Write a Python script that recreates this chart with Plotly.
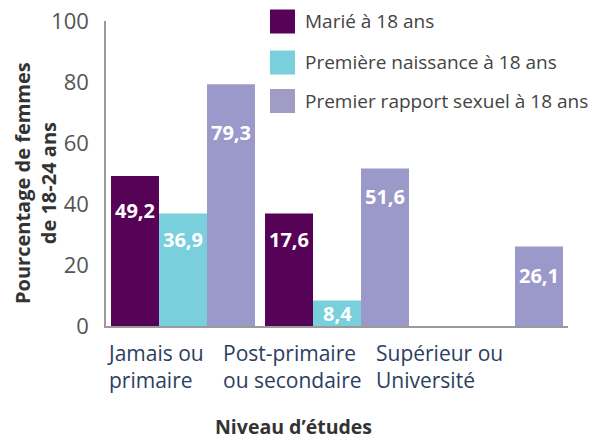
import plotly.graph_objects as go

categories = ["Jamais ou primaire", "Post-primaire ou secondaire", "Supérieur ou Université"]
category_labels = ["Jamais ou<br>primaire", "Post-primaire<br>ou secondaire", "Supérieur ou<br>Université"]
series_names = ["Marié à 18 ans", "Première naissance à 18 ans", "Premier rapport sexuel à 18 ans"]
# bar heights as drawn in the picture
marie_heights = [49.2, 36.9, None]
naissance_heights = [36.9, 8.4, None]
rapport_heights = [79.3, 51.6, 26.1]
# value labels printed on bars
marie_labels = ["49,2", "17,6", ""]
naissance_labels = ["36,9", "8,4", ""]
rapport_labels = ["79,3", "51,6", "26,1"]
y_ticks = [0, 20, 40, 60, 80, 100]

colors = ["#560256", "#79cfdb", "#9a99ca"]
legend_colors = ["#560256", "#79cfdb", "#a09cc4"]

OFF = 8  # page body margin
W, H = 603 - OFF, 441 - OFF
# page-pixel geometry of the plot area
PX_L, PX_R, PX_T, PX_B = 106, 568, 21, 326
L, R, T, B = PX_L - OFF, 603 - PX_R, PX_T - OFF, 441 - PX_B
PW = PX_R - PX_L
PH = PX_B - PX_T


def px_x(px):
    return (px - PX_L) / PW


def px_y(py):
    return (PX_B - py) / PH


fig = go.Figure()
for name, vals, col in zip(series_names,
                           [marie_heights, naissance_heights, rapport_heights],
                           colors):
    fig.add_trace(go.Bar(x=categories, y=vals, name=name, marker_color=col,
                         marker_line_width=0, showlegend=False))

# value labels inside bars (vertical position as in the picture, fraction of bar)
label_frac = [[0.77, 0.77, 0], [0.77, 0.5, 0], [0.80, 0.82, 0.63]]
shifts = [-48, 0, 48]
annotations = []
for s, (vals, labs) in enumerate(zip([marie_heights, naissance_heights, rapport_heights],
                                     [marie_labels, naissance_labels, rapport_labels])):
    for i, (v, lab) in enumerate(zip(vals, labs)):
        if v is None or not lab:
            continue
        annotations.append(dict(x=categories[i], y=v * label_frac[s][i], xref="x", yref="y",
                                text=lab, showarrow=False, xshift=shifts[s],
                                font=dict(family="Open Sans", size=20, color="white", weight="bold")))

# category labels
cat_x = [105, 221, 374]
for lab, cx in zip(category_labels, cat_x):
    annotations.append(dict(x=px_x(cx), y=px_y(337), xref="paper", yref="paper",
                            text=lab, showarrow=False, xanchor="left", yanchor="top",
                            align="left",
                            font=dict(family="Open Sans", size=21, color="#2c3e5e")))

# legend
leg_y = [21.5, 62.5, 101]
for name, col, ly in zip(series_names, legend_colors, leg_y):
    fig.add_shape(type="rect", xref="paper", yref="paper",
                  x0=px_x(270), x1=px_x(295), y0=px_y(ly - 12), y1=px_y(ly + 12),
                  fillcolor=col, line_width=0)
    annotations.append(dict(x=px_x(303), y=px_y(ly), xref="paper", yref="paper",
                            text=name, showarrow=False, xanchor="left", yanchor="middle",
                            font=dict(family="Open Sans", size=19, color="#444444")))

# axis titles
annotations.append(dict(x=px_x(35), y=px_y(183), xref="paper", yref="paper",
                        text="Pourcentage de femmes<br>de 18-24 ans", showarrow=False,
                        textangle=-90, xanchor="center", yanchor="middle",
                        font=dict(family="Open Sans", size=20, color="#333333", weight="bold")))
annotations.append(dict(x=px_x(293), y=px_y(427), xref="paper", yref="paper",
                        text="Niveau d’études", showarrow=False,
                        xanchor="center", yanchor="middle",
                        font=dict(family="Open Sans", size=19.5, color="#333333", weight="bold")))

fig.update_layout(
    width=W, height=H,
    margin=dict(l=L, r=R, t=T, b=B, autoexpand=False),
    paper_bgcolor="white", plot_bgcolor="white",
    barmode="group", bargap=0.065, bargroupgap=0,
    annotations=annotations,
    xaxis=dict(showticklabels=False, showline=True, linecolor="#9a9a9a", linewidth=1.5,
               ticks="", showgrid=False, zeroline=False, automargin=False),
    yaxis=dict(range=[0, 100], tickvals=y_ticks, showline=True, linecolor="#9a9a9a",
               linewidth=1.5, showgrid=False, zeroline=False, ticks="",
               ticklabelstandoff=11, ticklabeloverflow="allow", automargin=False,
               tickfont=dict(family="Open Sans", size=22, color="#555555")),
)

fig.write_html("out.html")
